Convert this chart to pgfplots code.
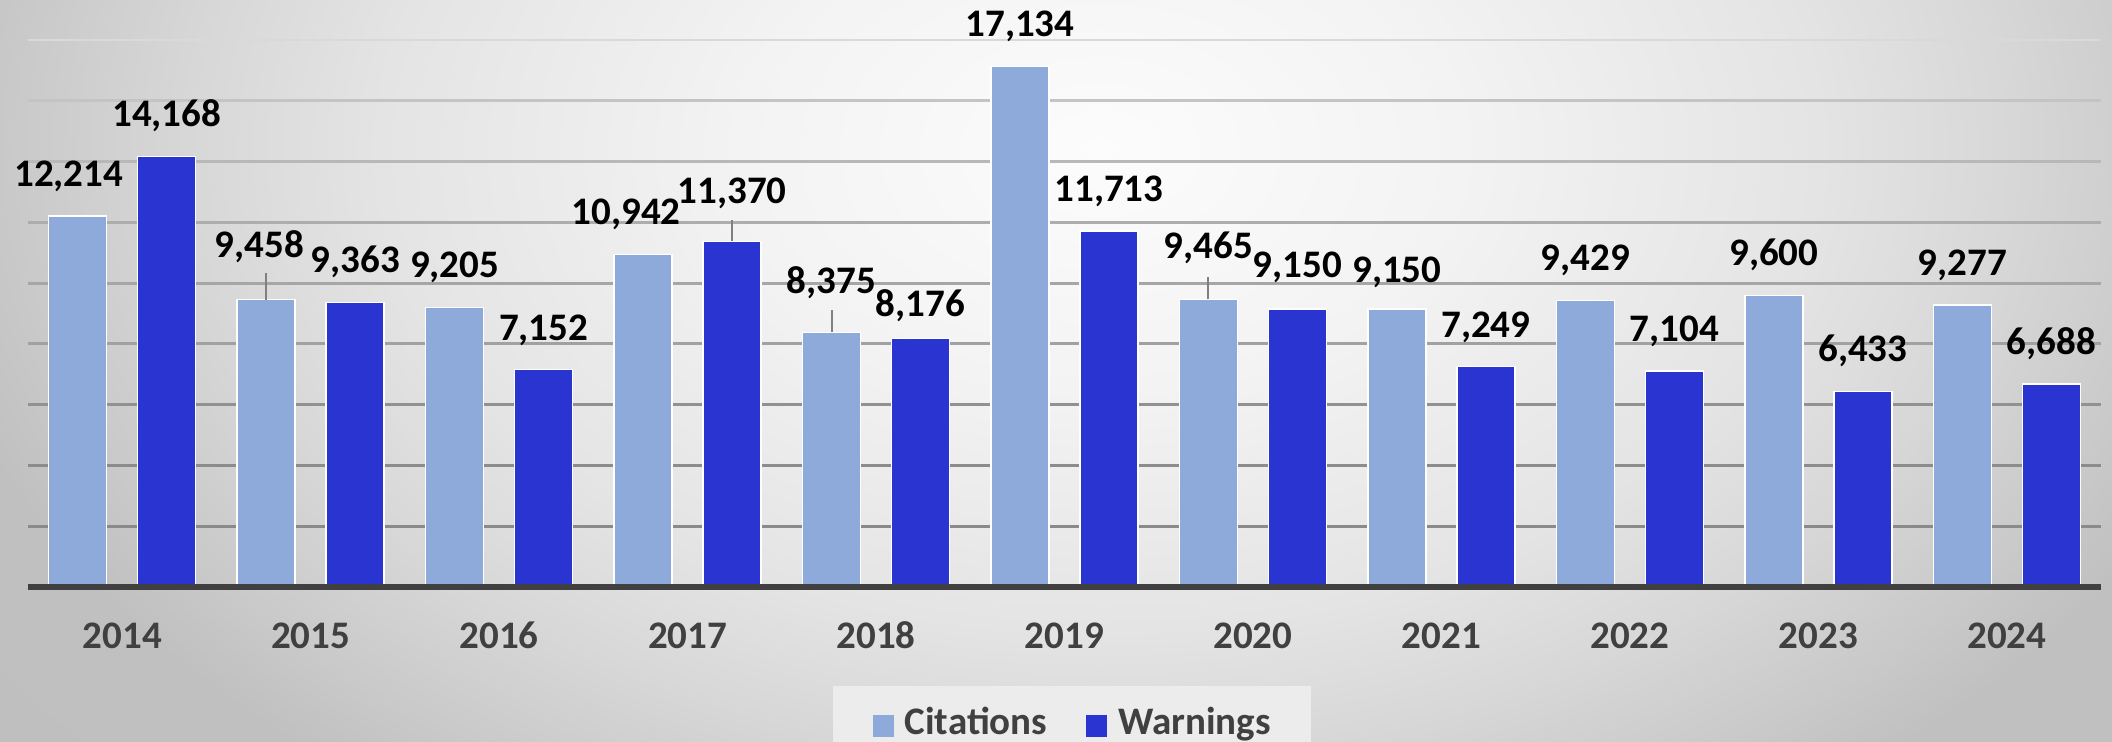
\documentclass[border=0pt]{standalone}
\usepackage{fontspec}
\setmainfont{Carlito}
\usepackage{pgfplots}
\pgfplotsset{compat=1.18}
\usepackage{pgfplotstable}

\definecolor{cit}{HTML}{8EAADB}
\definecolor{war}{HTML}{2A34D0}
\definecolor{ink}{HTML}{404040}
\definecolor{legbg}{HTML}{ECECEC}
\definecolor{bg0}{HTML}{FCFCFC}
\definecolor{bg1}{HTML}{F3F3F3}
\definecolor{bg2}{HTML}{E4E4E4}
\definecolor{bg3}{HTML}{D8D8D8}
\definecolor{bg4}{HTML}{CACACA}
\definecolor{bg5}{HTML}{C0C0C0}
\definecolor{bg6}{HTML}{BCBCBC}
% 25bp is the edge of the shaded rectangle
\pgfdeclareradialshading{backdrop}{\pgfpoint{0bp}{0bp}}{color(0bp)=(bg0); color(7.5bp)=(bg1); color(15bp)=(bg2); color(18.75bp)=(bg3); color(22.5bp)=(bg4); color(25bp)=(bg5); color(50bp)=(bg6)}

\newcommand\lbl{\fontsize{19.5bp}{23bp}\selectfont\bfseries}

% cerr/werr: length of the leader line above a bar (data units)
\pgfplotstableread{
x cit   cerr war   werr
0 12214 0    14168 0
1 9458  888  9363  0
2 9205  0    7152  0
3 10942 0    11370 691
4 8375  724  8176  0
5 17134 0    11713 0
6 9465  724  9150  0
7 9150  0    7249  0
8 9429  0    7104  0
9 9600  0    6433  0
10 9277 0    6688  0
}\counts

\begin{document}
\begin{tikzpicture}
\useasboundingbox (0,0) rectangle (1056bp,371bp);
\begin{scope}
\clip (0,0) rectangle (1056bp,371bp);
\shade[shading=backdrop] (-50bp,-104bp) rectangle (1150bp,696bp);
\end{scope}
\begin{axis}[
  at={(14bp,77.5bp)}, anchor=south west,
  scale only axis, width=1036.5bp, height=273.5bp,
  xmin=-0.5, xmax=10.5, ymin=0, ymax=18000,
  ybar, bar width=29bp,
  axis line style={draw=none},
  ytick=\empty,
  xtick={0,...,10},
  xticklabels={2014,2015,2016,2017,2018,2019,2020,2021,2022,2023,2024},
  major tick length=0pt,
  xticklabel style={font=\lbl, text=ink, anchor=base, yshift=-30.5bp},
  clip=false,
  legend columns=2,
  legend cell align=left,
  legend style={at={(rel axis cs:0.3880,-0.1810)}, anchor=north west,
    fill=legbg, draw=none, inner xsep=20bp, inner ysep=11.5bp,
    font=\lbl, text=ink,
    nodes={inner sep=0pt, text height=12.5bp, text depth=4bp},
    /tikz/every odd column/.append style={column sep=5.5bp},
    /tikz/every even column/.append style={column sep=19.5bp}},
  label num/.style={
    nodes near coords={\pgfmathprintnumber[fixed, precision=0, 1000 sep={,}, assume math mode=true]{\pgfplotspointmeta}},
    every node near coord/.append style={anchor=base, text=black, font=\lbl, yshift=14.8bp}},
  leader/.style={draw=none, fill=none, forget plot,
    error bars/.cd, y dir=plus, y explicit, error mark=none,
    error bar style={color=black!50, line width=1bp}},
]
\draw[line width=1.4bp, color=black!46] (axis cs:-0.5,2000) -- (axis cs:10.5,2000);
\draw[line width=1.4bp, color=black!45] (axis cs:-0.5,4000) -- (axis cs:10.5,4000);
\draw[line width=1.4bp, color=black!43] (axis cs:-0.5,6000) -- (axis cs:10.5,6000);
\draw[line width=1.4bp, color=black!37] (axis cs:-0.5,8000) -- (axis cs:10.5,8000);
\draw[line width=1.4bp, color=black!35] (axis cs:-0.5,10000) -- (axis cs:10.5,10000);
\draw[line width=1.4bp, color=black!32] (axis cs:-0.5,12000) -- (axis cs:10.5,12000);
\draw[line width=1.4bp, color=black!28] (axis cs:-0.5,14000) -- (axis cs:10.5,14000);
\draw[line width=1.4bp, color=black!23] (axis cs:-0.5,16000) -- (axis cs:10.5,16000);
\draw[line width=1.4bp, color=black!15] (axis cs:-0.5,18000) -- (axis cs:10.5,18000);

\addplot[fill=cit, draw=white, line width=0.75bp, bar shift=-22.25bp,
  legend image code/.code={\fill[cit] (0bp,-5bp) rectangle (9.75bp,5bp);},
  label num,
  coordinate style/.condition={x==0}{xshift=-4.5bp},
  coordinate style/.condition={x==1}{xshift=-3.5bp, yshift=6.25bp},
  coordinate style/.condition={x==3}{xshift=-8.5bp},
  coordinate style/.condition={x==4}{yshift=4.5bp},
  coordinate style/.condition={x==6}{yshift=5.5bp},
  coordinate style/.condition={x==7}{yshift=-1.5bp}]
  table[x=x, y=cit]{\counts};
\addlegendentry{Citations}
\addplot[fill=war, draw=white, line width=0.75bp, bar shift=22.25bp,
  legend image code/.code={\fill[war] (0bp,-5bp) rectangle (9.75bp,5bp);},
  label num,
  coordinate style/.condition={x==3}{yshift=4.25bp},
  coordinate style/.condition={x==4}{yshift=-4bp},
  coordinate style/.condition={x==6}{yshift=1bp}]
  table[x=x, y=war]{\counts};
\addlegendentry{Warnings}
\addplot[bar shift=-22.25bp, leader] table[x=x, y=cit, y error=cerr]{\counts};
\addplot[bar shift=22.25bp, leader] table[x=x, y=war, y error=werr]{\counts};
\draw[line width=3bp, color=ink] (rel axis cs:0,0) -- (rel axis cs:1,0);
\end{axis}
\end{tikzpicture}
\end{document}
